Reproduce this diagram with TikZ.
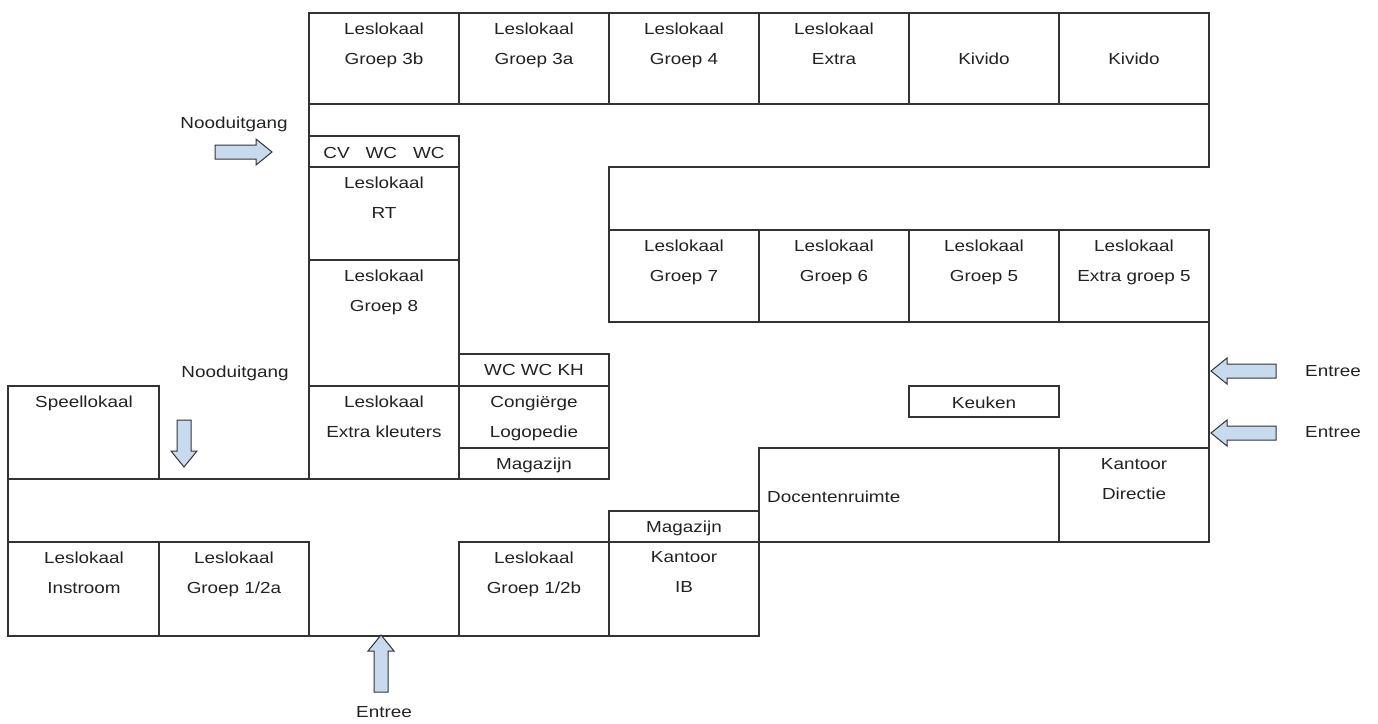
\documentclass[tikz,border=0pt]{standalone}
\usepackage{fontspec}
\setmainfont[FakeStretch=1.18]{Liberation Sans}
\definecolor{wall}{RGB}{51,51,51}
\definecolor{arrowfill}{RGB}{200,218,238}
\definecolor{txt}{RGB}{34,34,34}

\begin{document}
\begin{tikzpicture}[x=1pt, y=-1pt,
		wall/.style={draw=wall, line width=1.3pt},
		lbl/.style={anchor=north, inner sep=0pt, align=center, text=txt, font=\fontsize{16}{30}\selectfont},
		exitarrow/.pic={\draw[draw=wall, fill=arrowfill, line width=1pt] (0,0) -- (-16,-13) -- (-16,-7) -- (-#1,-7) -- (-#1,7) -- (-16,7) -- (-16,13) -- cycle;}]
			\useasboundingbox (0,0) rectangle (1378,723);
			
			\draw[wall] (309,13) rectangle (1209,104)
			(459,13) -- (459,104) (609,13) -- (609,104) (759,13) -- (759,104)
			(909,13) -- (909,104) (1059,13) -- (1059,104);
			\draw[wall] (309,104) -- (309,479);
			\draw[wall] (1209,104) -- (1209,167) -- (609,167) -- (609,322);
			\draw[wall] (309,136) rectangle (459,479)
			(309,167) -- (459,167) (309,260) -- (459,260) (309,386) -- (459,386);
			\draw[wall] (609,230) rectangle (1209,322)
			(759,230) -- (759,322) (909,230) -- (909,322) (1059,230) -- (1059,322);
			\draw[wall] (1209,322) -- (1209,448);
			\draw[wall] (759,448) rectangle (1209,542) (1059,448) -- (1059,542);
			\draw[wall] (909,386) rectangle (1059,417);
			\draw[wall] (459,354) rectangle (609,479) (459,386) -- (609,386) (459,448) -- (609,448);
			\draw[wall] (8,386) rectangle (159,479);
			\draw[wall] (8,479) -- (609,479);
			\draw[wall] (8,479) -- (8,542);
			\draw[wall] (8,542) rectangle (309,636) (159,542) -- (159,636);
			\draw[wall] (309,636) -- (459,636);
			\draw[wall] (459,542) rectangle (759,636) (609,542) -- (609,636);
			\draw[wall] (609,511) rectangle (759,542);
			
			\node[lbl] (g3b) at (384,22.4) {Leslokaal\\Groep 3b};
			\node[lbl] (g3a) at (534,22.4) {Leslokaal\\Groep 3a};
			\node[lbl] (g4) at (684,22.4) {Leslokaal\\Groep 4};
			\node[lbl] (extra) at (834,22.4) {Leslokaal\\Extra};
			\node[lbl] (kivido1) at (984,52.4) {Kivido};
			\node[lbl] (kivido2) at (1134,52.4) {Kivido};
			\node[lbl] (cvwc) at (384,147) {CV\quad WC\quad WC};
			\node[lbl] (rt) at (384,176.5) {Leslokaal\\RT};
			\node[lbl] (g8) at (384,269.5) {Leslokaal\\Groep 8};
			\node[lbl] (g7) at (684,239.5) {Leslokaal\\Groep 7};
			\node[lbl] (g6) at (834,239.5) {Leslokaal\\Groep 6};
			\node[lbl] (g5) at (984,239.5) {Leslokaal\\Groep 5};
			\node[lbl] (xg5) at (1134,239.5) {Leslokaal\\Extra groep 5};
			\node[lbl] (wckh) at (534,364.5) {WC WC KH};
			\node[lbl] (conc) at (534,395.5) {Congiërge\\Logopedie};
			\node[lbl] (mag1) at (534,457.5) {Magazijn};
			\node[lbl] (spel) at (84,395.5) {Speellokaal};
			\node[lbl] (kleut) at (384,395.5) {Leslokaal\\Extra kleuters};
			\node[lbl] (instr) at (84,551.5) {Leslokaal\\Instroom};
			\node[lbl] (g12a) at (234,551.5) {Leslokaal\\Groep 1/2a};
			\node[lbl] (g12b) at (534,551.5) {Leslokaal\\Groep 1/2b};
			\node[lbl] (mag2) at (684,520.5) {Magazijn};
			\node[lbl] (ib) at (684,551.5) {Kantoor\\IB};
			\node[lbl, anchor=north west] (doc) at (767,490.5) {Docentenruimte};
			\node[lbl] (dir) at (1134,458.5) {Kantoor\\Directie};
			\node[lbl] (keuken) at (984,396.5) {Keuken};
			
			\node[lbl] (nood1) at (234,116.5) {Nooduitgang};
			\node[lbl] (nood2) at (235,365.5) {Nooduitgang};
			\node[lbl, anchor=north west] (entr1) at (1305,365.5) {Entree};
			\node[lbl, anchor=north west] (entr2) at (1305,426.5) {Entree};
			\node[lbl] (entr3) at (384,706.5) {Entree};
			
			\pic at (272,152) {exitarrow=57};
			\pic[rotate=-90] at (184,467) {exitarrow=47};
			\pic[rotate=90] at (381,635) {exitarrow=57};
			\pic[rotate=180] at (1211,371) {exitarrow=65};
			\pic[rotate=180] at (1211,433) {exitarrow=65};
		\end{tikzpicture}
\end{document}
